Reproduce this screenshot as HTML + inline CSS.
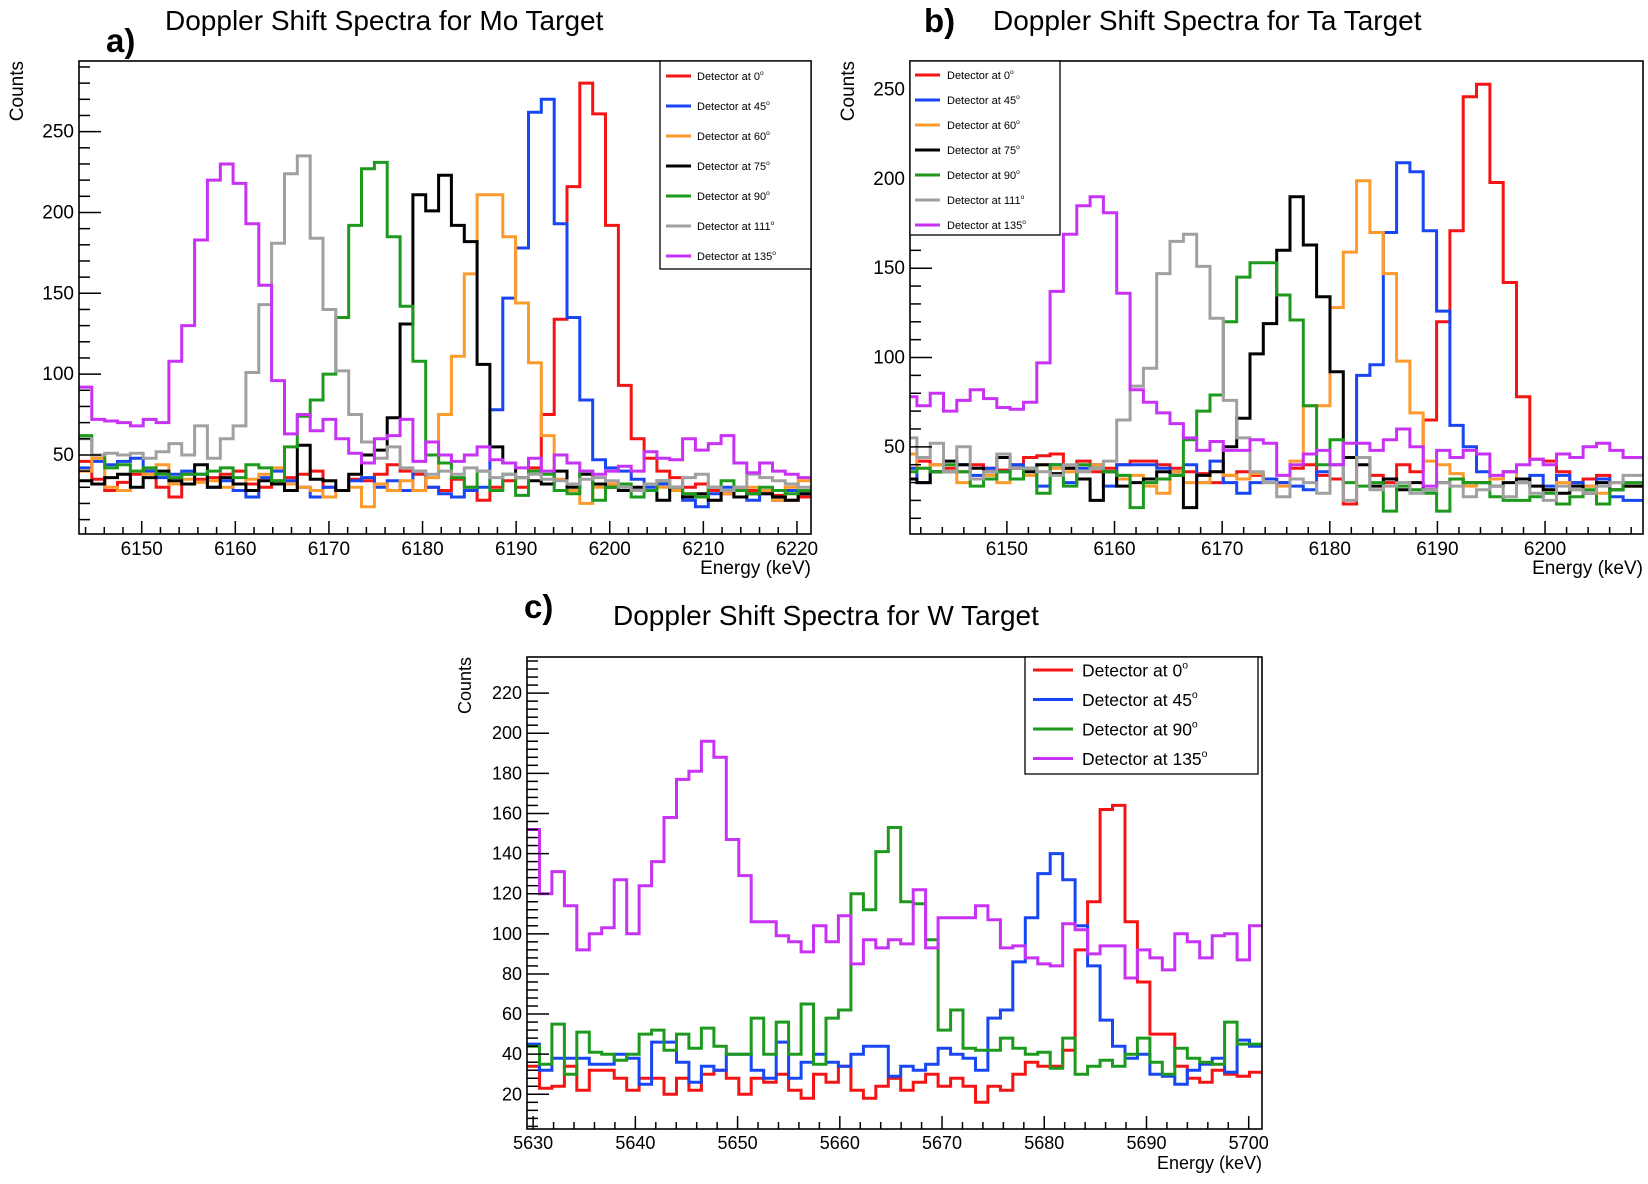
<!DOCTYPE html>
<html><head><meta charset="utf-8">
<style>
html,body{margin:0;padding:0;background:#fff;}
svg{display:block;font-family:"Liberation Sans",Arial,sans-serif;}
</style></head>
<body>
<svg id="fig" width="1648" height="1184" viewBox="0 0 1648 1184" xmlns="http://www.w3.org/2000/svg">
<rect width="1648" height="1184" fill="#fff"/>
</svg>
<script>
// ---------- Panel a (Mo) data ----------
const moLabels = ["0","45","60","75","90","111","135"];
const moRed = [46,35,28,33,38,40,30,24,38,35,36,38,40,32,30,34,36,38,40,30,28,35,34,38,44,40,38,30,28,35,30,22,30,34,30,42,75,134,216,280,261,192,93,60,48,40,36,30,32,28,26,30,28,28,25,22,24];
const moBlue = [42,46,44,46,48,40,36,38,40,38,30,34,28,24,36,40,34,30,24,30,28,34,36,30,34,28,40,30,26,24,28,30,78,147,178,262,270,193,135,84,47,42,40,35,30,32,28,22,18,26,30,28,22,26,22,28,26];
const moOrange = [40,48,30,28,40,38,44,32,35,33,34,30,32,35,38,42,32,30,28,24,28,30,18,32,28,34,28,36,75,111,162,211,211,185,144,107,62,35,28,20,30,32,28,28,32,30,28,26,24,22,26,24,30,28,22,30,34];
const moBlack = [34,32,36,38,30,36,40,34,32,44,30,36,32,28,34,32,28,56,35,34,28,38,50,53,73,131,211,201,223,192,182,106,55,45,36,34,32,40,30,38,32,30,28,30,28,22,30,24,26,22,28,24,26,26,24,22,26];
const moGreen = [62,50,42,44,40,42,38,36,38,38,40,42,36,44,42,34,55,74,84,100,135,192,227,231,185,142,108,50,45,36,30,40,28,38,25,40,38,28,26,40,22,30,32,24,28,34,30,26,24,30,34,28,26,30,28,26,28];
const moGray = [60,50,51,50,51,48,52,57,50,68,48,60,68,101,143,181,224,235,184,140,102,75,58,48,55,42,40,38,40,38,42,40,36,38,36,38,35,34,32,35,36,34,30,28,32,34,30,36,38,30,28,30,38,36,34,32,30];
const moMagenta = [92,72,71,70,68,72,70,108,130,183,220,230,218,193,155,96,63,75,65,72,60,51,45,60,62,72,46,58,50,46,50,55,47,45,42,48,40,50,45,40,38,40,43,40,52,48,47,60,53,57,62,45,39,45,40,38,36];
const moXTicks = [6150,6160,6170,6180,6190,6200,6210,6220];
const moYTicks = [50,100,150,200,250];

// ---------- Panel b (Ta) data ----------
const taLabels = ["0","45","60","75","90","111","135"];
const taRed = [38,42,40,38,36,40,38,37,40,44,45,46,38,42,36,38,40,42,42,40,38,36,35,30,34,36,34,32,30,38,40,34,32,18,44,34,30,40,36,65,120,171,246,253,198,142,78,43,42,36,30,32,34,30,28,28];
const taBlue = [38,30,36,36,40,34,38,36,40,38,28,40,30,38,40,28,40,40,40,38,36,40,30,42,30,24,30,32,30,28,26,36,40,44,90,96,170,209,204,171,126,62,50,36,32,36,30,34,28,34,30,28,32,22,20,20];
const taOrange = [46,38,40,36,30,32,34,30,32,34,40,38,36,36,40,36,32,34,28,24,36,30,30,36,34,32,35,30,28,42,73,73,128,159,199,170,147,98,69,42,40,35,28,30,32,36,30,28,26,30,26,28,24,26,28,28];
const taBlack = [32,30,36,42,40,38,36,44,38,36,40,35,38,32,20,36,28,30,32,36,34,16,34,36,50,66,102,119,160,190,163,134,92,44,40,28,32,26,30,26,30,32,30,30,28,30,32,28,26,24,28,24,30,26,28,28];
const taGreen = [36,38,36,40,36,28,32,36,32,38,24,40,28,40,38,36,34,16,30,32,34,54,70,79,120,145,153,153,135,121,73,40,54,30,28,30,14,28,26,24,14,32,30,30,22,20,20,22,24,18,22,26,18,26,30,30];
const taGray = [55,44,52,36,50,32,36,46,38,38,36,34,40,36,38,42,65,84,94,147,165,169,151,122,76,55,36,30,22,32,30,24,40,20,44,26,28,30,24,26,30,28,22,26,28,22,30,24,20,28,26,24,28,30,34,34];
const taMagenta = [78,73,80,70,76,82,77,72,71,75,97,137,169,185,190,181,136,82,75,69,63,55,48,53,48,48,54,52,34,40,46,48,40,52,52,48,54,60,50,28,48,44,48,46,34,36,40,43,40,46,44,50,52,48,44,44];
const taXTicks = [6150,6160,6170,6180,6190,6200];
const taYTicks = [50,100,150,200,250];

// ---------- Panel c (W) data ----------
const wLabels = ["0","45","90","135"];
const wRed = [34,23,24,34,22,32,32,28,22,28,28,20,28,22,30,32,28,20,28,26,30,22,18,30,26,34,22,18,24,28,22,26,30,24,28,24,16,24,22,30,36,34,34,42,92,116,162,164,106,76,50,50,34,28,26,32,30,29,31];
const wBlue = [45,32,38,38,38,35,35,40,38,25,46,46,36,26,34,32,40,40,32,28,46,28,36,40,36,34,40,44,44,29,34,32,35,43,40,38,32,58,62,86,108,130,140,127,104,84,57,44,38,40,30,29,25,32,35,38,31,47,44];
const wGreen = [44,35,55,30,51,41,40,37,40,50,52,42,50,43,53,44,40,40,58,40,56,40,65,35,58,62,120,112,141,153,116,115,97,52,62,43,42,42,48,43,40,41,33,48,30,34,37,34,40,48,36,30,43,38,36,35,56,45,45];
const wMagenta = [152,120,131,114,92,100,103,127,100,124,136,158,177,181,196,188,147,129,106,106,99,96,91,104,96,109,85,97,93,97,95,122,93,108,108,108,114,107,93,94,88,85,84,105,102,90,94,94,78,92,88,82,100,96,88,99,100,87,104];
const wXTicks = [5630,5640,5650,5660,5670,5680,5690,5700];
const wYTicks = [20,40,60,80,100,120,140,160,180,200,220];

const COLORS = {red:"#f41414", blue:"#1846f2", orange:"#fd9a2c", black:"#000", green:"#1d9a1d", gray:"#a0a0a0", magenta:"#c832f5"};
const NS = "http://www.w3.org/2000/svg";
const svg = document.getElementById('fig');
function mk(tag, attrs, parent){const e=document.createElementNS(NS,tag);for(const k in attrs)e.setAttribute(k,attrs[k]);(parent||svg).appendChild(e);return e;}

function panel(P){
  const g = mk('g',{});
  
  
  const X = v => P.L + (v-P.x0)/(P.x1-P.x0)*(P.R-P.L);
  const Y = v => P.B - (v-P.y0)/(P.y1-P.y0)*(P.B-P.T);
  const cp = mk('clipPath',{id:P.id+'-clip'},g);
  mk('rect',{x:P.L,y:P.T,width:P.R-P.L,height:P.B-P.T},cp);
  const sg = mk('g',{'clip-path':'url(#'+P.id+'-clip)'},g);
  
  
  P.series.forEach(s=>{
    const h0 = P.h0, w = P.bw;
    let d = '';
    s.data.forEach((v,i)=>{
      const xl = X(h0+i*w), xr = X(h0+(i+1)*w), yy = Y(v);
      d += (i===0? 'M'+xl.toFixed(1)+','+yy.toFixed(1) : 'V'+yy.toFixed(1)) + 'H'+xr.toFixed(1);
    });
    const p = mk('path',{d:d,fill:'none',stroke:COLORS[s.color],'stroke-width':3,'stroke-linejoin':'miter'},sg);
    
    
  });
  const fr = mk('rect',{x:P.L,y:P.T,width:P.R-P.L,height:P.B-P.T,fill:'none',stroke:'#000','stroke-width':1.6},g);
  
  
  const xt = mk('g',{stroke:'#000','stroke-width':1.5},g);
  
  
  for(let v=Math.ceil(P.x0/P.xMinor)*P.xMinor; v<=P.x1; v+=P.xMinor){
    const major = Math.abs(v/P.xMajor-Math.round(v/P.xMajor))<1e-6;
    mk('line',{x1:X(v),x2:X(v),y1:P.B,y2:P.B-(major?13:7)},xt);
  }
  P.xTicks.forEach(v=>{
    const t = mk('text',{x:X(v),y:P.B+P.xly,'text-anchor':'middle','font-size':P.fs},g);
    t.textContent = v;
    
    
  });
  const yt = mk('g',{stroke:'#000','stroke-width':1.5},g);
  
  
  for(let v=Math.ceil(P.y0/P.yMinor)*P.yMinor; v<=P.y1; v+=P.yMinor){
    const major = Math.abs(v/P.yMajor-Math.round(v/P.yMajor))<1e-6;
    mk('line',{x1:P.L,x2:P.L+(major?22:11),y1:Y(v),y2:Y(v)},yt);
  }
  P.yTicks.forEach(v=>{
    const t = mk('text',{x:P.L-5,y:Y(v)+6,'text-anchor':'end','font-size':P.fs},g);
    t.textContent = v;
    
    
  });
  const xa = mk('text',{x:P.R,y:P.B+40,'text-anchor':'end','font-size':P.fs},g);
  xa.textContent = 'Energy (keV)';
  
  
  const ya = mk('text',{x:0,y:0,'text-anchor':'end','font-size':P.fs,transform:'translate('+(P.L-P.cx)+','+P.T+') rotate(-90)'},g);
  ya.textContent = 'Counts';
  
  
  const lt = mk('text',{x:P.lx,y:P.ly,'font-size':33,'font-weight':'bold'},g);
  lt.textContent = P.letter;
  
  
  const tt = mk('text',{x:P.tx,y:P.ty,'font-size':28},g);
  tt.textContent = P.title;
  
  
  const lg = mk('g',{},g);
  
  
  const Lg = P.leg;
  mk('rect',{x:Lg.x,y:Lg.y,width:Lg.w,height:Lg.h,fill:'#fff',stroke:'#000','stroke-width':1.3},lg);
  P.series.forEach((s,i)=>{
    const yy = Lg.y0 + i*Lg.dy;
    const e = mk('g',{},lg);
    
    
    mk('line',{x1:Lg.x+Lg.lx1,x2:Lg.x+Lg.lx2,y1:yy,y2:yy,stroke:COLORS[s.color],'stroke-width':3},e);
    const t = mk('text',{x:Lg.x+Lg.tx,y:yy+Lg.fs*0.36,'font-size':Lg.fs},e);
    t.textContent = 'Detector at '+s.label;
    const sup = mk('tspan',{dy:-Lg.fs*0.45,'font-size':Lg.fs*0.6},t);
    sup.textContent = 'o';
  });
}

panel({id:'mo',L:79,R:811,T:61,B:534,x0:6143.3,x1:6221.5,y0:1.1,y1:293.7,h0:6143.3,bw:78.2/57,xMinor:2,xMajor:10,yMinor:10,yMajor:50,
  xTicks:moXTicks,yTicks:moYTicks,fs:19,xly:21,cx:56,letter:'a)',lx:106,ly:52,title:'Doppler Shift Spectra for Mo Target',tx:165,ty:30,
  leg:{x:660,y:61,w:151,h:208,y0:76,dy:30,lx1:6,lx2:31,tx:37,fs:11},
  series:[{label:moLabels[0],color:'red',data:moRed},{label:moLabels[1],color:'blue',data:moBlue},{label:moLabels[2],color:'orange',data:moOrange},{label:moLabels[3],color:'black',data:moBlack},{label:moLabels[4],color:'green',data:moGreen},{label:moLabels[5],color:'gray',data:moGray},{label:moLabels[6],color:'magenta',data:moMagenta}]});

panel({id:'ta',L:910,R:1643,T:61,B:534,x0:6141,x1:6209.1,y0:1.2,y1:266,h0:6140.4,bw:1.238,xMinor:2,xMajor:10,yMinor:10,yMajor:50,
  xTicks:taXTicks,yTicks:taYTicks,fs:19,xly:21,cx:56,letter:'b)',lx:924,ly:32,title:'Doppler Shift Spectra for Ta Target',tx:993,ty:30,
  leg:{x:910,y:61,w:150,h:174,y0:75,dy:25,lx1:5,lx2:30,tx:37,fs:11},
  series:[{label:taLabels[0],color:'red',data:taRed},{label:taLabels[1],color:'blue',data:taBlue},{label:taLabels[2],color:'orange',data:taOrange},{label:taLabels[3],color:'black',data:taBlack},{label:taLabels[4],color:'green',data:taGreen},{label:taLabels[5],color:'gray',data:taGray},{label:taLabels[6],color:'magenta',data:taMagenta}]});

panel({id:'w',L:527,R:1262,T:657,B:1129,x0:5629.4,x1:5701.3,y0:2.7,y1:238,h0:5629.4,bw:71.9/59,xMinor:2,xMajor:10,yMinor:4,yMajor:20,
  xTicks:wXTicks,yTicks:wYTicks,fs:18,xly:20,cx:56,letter:'c)',lx:524,ly:618,title:'Doppler Shift Spectra for W Target',tx:613,ty:625,
  leg:{x:1025,y:657,w:233,h:117,y0:670,dy:29.5,lx1:8,lx2:48,tx:57,fs:17.5},
  series:[{label:wLabels[0],color:'red',data:wRed},{label:wLabels[1],color:'blue',data:wBlue},{label:wLabels[2],color:'green',data:wGreen},{label:wLabels[3],color:'magenta',data:wMagenta}]});
</script>
</body></html>
